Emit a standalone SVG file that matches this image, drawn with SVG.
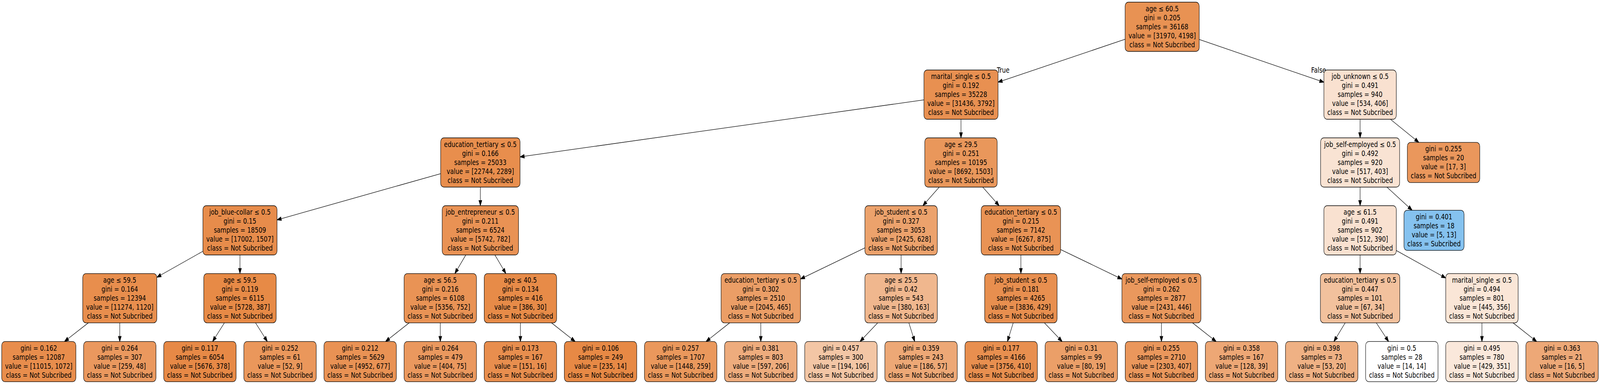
<svg xmlns="http://www.w3.org/2000/svg" width="5032" height="982" viewBox="0 0 5032 982" preserveAspectRatio="none">
<style>
svg{width:100vw;height:100vh;display:block}
.nd rect{stroke:#000;stroke-width:1.3}
text{font-family:"DejaVu Sans","Liberation Sans",sans-serif;font-size:18.67px;text-anchor:middle;fill:#000}
.edge{stroke:#000;stroke-width:1.3;fill:none;marker-end:url(#ah)}
</style>
<defs>
<marker id="ah" markerUnits="userSpaceOnUse" markerWidth="16" markerHeight="12" refX="0" refY="4.67" orient="auto" overflow="visible">
<path d="M0,0 L13.3,4.67 L0,9.33 z" fill="#000" stroke="#000" stroke-width="1.3"/>
</marker>
</defs>
<rect x="0" y="0" width="5032" height="982" fill="#fff"/>
<g id="connectors">
<line class="edge" x1="3538.45" y1="100.46" x2="3151.68" y2="206.52"/>
<line class="edge" x1="3771.55" y1="100.98" x2="4150.84" y2="206.7"/>
<line class="edge" x1="2905.75" y1="255.38" x2="1648.76" y2="399.65"/>
<line class="edge" x1="3022.3" y1="305" x2="3022.3" y2="339.2"/>
<line class="edge" x1="4277.5" y1="305" x2="4277.5" y2="339.2"/>
<line class="edge" x1="4372.82" y1="305" x2="4451.21" y2="356.82"/>
<line class="edge" x1="1385.85" y1="444.15" x2="884.21" y2="559.28"/>
<line class="edge" x1="1510.7" y1="478.5" x2="1510.7" y2="512.7"/>
<line class="edge" x1="2953.93" y1="478.5" x2="2912.15" y2="516.99"/>
<line class="edge" x1="3090.71" y1="478.5" x2="3132.51" y2="516.99"/>
<line class="edge" x1="4277.5" y1="478.5" x2="4277.5" y2="512.7"/>
<line class="edge" x1="4361.92" y1="478.5" x2="4430.52" y2="529.7"/>
<line class="edge" x1="638.15" y1="642.52" x2="505.34" y2="703.53"/>
<line class="edge" x1="754.7" y1="652" x2="754.7" y2="686.3"/>
<line class="edge" x1="1464.97" y1="652" x2="1438.24" y2="688.84"/>
<line class="edge" x1="1556.43" y1="652" x2="1583.16" y2="688.84"/>
<line class="edge" x1="2720.15" y1="633.79" x2="2529.93" y2="708.62"/>
<line class="edge" x1="2834" y1="652" x2="2834" y2="686.3"/>
<line class="edge" x1="3210.7" y1="652" x2="3210.7" y2="686.3"/>
<line class="edge" x1="3335.55" y1="638.04" x2="3516.07" y2="708.94"/>
<line class="edge" x1="4277.5" y1="652" x2="4277.5" y2="686.3"/>
<line class="edge" x1="4391.35" y1="640.58" x2="4534.74" y2="705.53"/>
<line class="edge" x1="277.77" y1="825.6" x2="213.86" y2="866.31"/>
<line class="edge" x1="376.7" y1="825.6" x2="376.7" y2="860.15"/>
<line class="edge" x1="705.76" y1="825.6" x2="676.75" y2="862.95"/>
<line class="edge" x1="803.64" y1="825.6" x2="832.65" y2="862.95"/>
<line class="edge" x1="1286.82" y1="825.6" x2="1223.66" y2="866.25"/>
<line class="edge" x1="1384.7" y1="825.6" x2="1384.7" y2="860.15"/>
<line class="edge" x1="1636.7" y1="825.6" x2="1636.7" y2="860.15"/>
<line class="edge" x1="1734.58" y1="825.6" x2="1797.74" y2="866.25"/>
<line class="edge" x1="2294.82" y1="825.6" x2="2231.66" y2="866.25"/>
<line class="edge" x1="2392.7" y1="825.6" x2="2392.7" y2="860.15"/>
<line class="edge" x1="2760.48" y1="825.6" x2="2714.73" y2="864.8"/>
<line class="edge" x1="2858.35" y1="825.6" x2="2872.05" y2="861.05"/>
<line class="edge" x1="3186.62" y1="825.6" x2="3173.08" y2="861.02"/>
<line class="edge" x1="3284.5" y1="825.6" x2="3330.43" y2="864.81"/>
<line class="edge" x1="3652.7" y1="825.6" x2="3652.7" y2="860.15"/>
<line class="edge" x1="3750.58" y1="825.6" x2="3813.74" y2="866.25"/>
<line class="edge" x1="4230.58" y1="825.6" x2="4202.9" y2="862.78"/>
<line class="edge" x1="4328.46" y1="825.6" x2="4358.8" y2="863.11"/>
<line class="edge" x1="4660.7" y1="825.6" x2="4660.7" y2="860.15"/>
<line class="edge" x1="4758.58" y1="825.6" x2="4821.74" y2="866.25"/>
<text x="3155" y="186.5">True</text>
<text x="4147" y="186.5">False</text>
</g>
<g id="n0" class="nd"><rect x="3538.45" y="5.5" width="233.1" height="126" rx="10" fill="#e89253"/><text x="3655" y="29"><tspan x="3655">age ≤ 60.5</tspan><tspan x="3655" dy="23">gini = 0.205</tspan><tspan x="3655" dy="23">samples = 36168</tspan><tspan x="3655" dy="23">value = [31970, 4198]</tspan><tspan x="3655" dy="23">class = Not Subcribed</tspan></text></g>
<g id="n1" class="nd"><rect x="2905.75" y="179" width="233.1" height="126" rx="10" fill="#e89051"/><text x="3022.3" y="202.5"><tspan x="3022.3">marital_single ≤ 0.5</tspan><tspan x="3022.3" dy="23">gini = 0.192</tspan><tspan x="3022.3" dy="23">samples = 35228</tspan><tspan x="3022.3" dy="23">value = [31436, 3792]</tspan><tspan x="3022.3" dy="23">class = Not Subcribed</tspan></text></g>
<g id="n2" class="nd"><rect x="4163.65" y="179" width="227.7" height="126" rx="10" fill="#f9e1d0"/><text x="4277.5" y="202.5"><tspan x="4277.5">job_unknown ≤ 0.5</tspan><tspan x="4277.5" dy="23">gini = 0.491</tspan><tspan x="4277.5" dy="23">samples = 940</tspan><tspan x="4277.5" dy="23">value = [534, 406]</tspan><tspan x="4277.5" dy="23">class = Not Subcribed</tspan></text></g>
<g id="n3" class="nd"><rect x="1385.85" y="352.5" width="249.7" height="126" rx="10" fill="#e88e4d"/><text x="1510.7" y="376"><tspan x="1510.7">education_tertiary ≤ 0.5</tspan><tspan x="1510.7" dy="23">gini = 0.166</tspan><tspan x="1510.7" dy="23">samples = 25033</tspan><tspan x="1510.7" dy="23">value = [22744, 2289]</tspan><tspan x="1510.7" dy="23">class = Not Subcribed</tspan></text></g>
<g id="n4" class="nd"><rect x="2908.45" y="352.5" width="227.7" height="126" rx="10" fill="#e9975b"/><text x="3022.3" y="376"><tspan x="3022.3">age ≤ 29.5</tspan><tspan x="3022.3" dy="23">gini = 0.251</tspan><tspan x="3022.3" dy="23">samples = 10195</tspan><tspan x="3022.3" dy="23">value = [8692, 1503]</tspan><tspan x="3022.3" dy="23">class = Not Subcribed</tspan></text></g>
<g id="n5" class="nd"><rect x="4153.25" y="352.5" width="248.5" height="126" rx="10" fill="#f9e3d3"/><text x="4277.5" y="376"><tspan x="4277.5">job_self-employed ≤ 0.5</tspan><tspan x="4277.5" dy="23">gini = 0.492</tspan><tspan x="4277.5" dy="23">samples = 920</tspan><tspan x="4277.5" dy="23">value = [517, 403]</tspan><tspan x="4277.5" dy="23">class = Not Subcribed</tspan></text></g>
<g id="n6" class="nd"><rect x="4426.15" y="364.15" width="227.7" height="102.7" rx="10" fill="#ea975c"/><text x="4540" y="387.5"><tspan x="4540">gini = 0.255</tspan><tspan x="4540" dy="23">samples = 20</tspan><tspan x="4540" dy="23">value = [17, 3]</tspan><tspan x="4540" dy="23">class = Not Subcribed</tspan></text></g>
<g id="n7" class="nd"><rect x="638.15" y="526" width="233.1" height="126" rx="10" fill="#e78c4b"/><text x="754.7" y="549.5"><tspan x="754.7">job_blue-collar ≤ 0.5</tspan><tspan x="754.7" dy="23">gini = 0.15</tspan><tspan x="754.7" dy="23">samples = 18509</tspan><tspan x="754.7" dy="23">value = [17002, 1507]</tspan><tspan x="754.7" dy="23">class = Not Subcribed</tspan></text></g>
<g id="n8" class="nd"><rect x="1390.7" y="526" width="240" height="126" rx="10" fill="#e99254"/><text x="1510.7" y="549.5"><tspan x="1510.7">job_entrepreneur ≤ 0.5</tspan><tspan x="1510.7" dy="23">gini = 0.211</tspan><tspan x="1510.7" dy="23">samples = 6524</tspan><tspan x="1510.7" dy="23">value = [5742, 782]</tspan><tspan x="1510.7" dy="23">class = Not Subcribed</tspan></text></g>
<g id="n9" class="nd"><rect x="2720.15" y="526" width="227.7" height="126" rx="10" fill="#eca26c"/><text x="2834" y="549.5"><tspan x="2834">job_student ≤ 0.5</tspan><tspan x="2834" dy="23">gini = 0.327</tspan><tspan x="2834" dy="23">samples = 3053</tspan><tspan x="2834" dy="23">value = [2425, 628]</tspan><tspan x="2834" dy="23">class = Not Subcribed</tspan></text></g>
<g id="n10" class="nd"><rect x="3085.85" y="526" width="249.7" height="126" rx="10" fill="#e99355"/><text x="3210.7" y="549.5"><tspan x="3210.7">education_tertiary ≤ 0.5</tspan><tspan x="3210.7" dy="23">gini = 0.215</tspan><tspan x="3210.7" dy="23">samples = 7142</tspan><tspan x="3210.7" dy="23">value = [6267, 875]</tspan><tspan x="3210.7" dy="23">class = Not Subcribed</tspan></text></g>
<g id="n11" class="nd"><rect x="4163.65" y="526" width="227.7" height="126" rx="10" fill="#f9e1d0"/><text x="4277.5" y="549.5"><tspan x="4277.5">age ≤ 61.5</tspan><tspan x="4277.5" dy="23">gini = 0.491</tspan><tspan x="4277.5" dy="23">samples = 902</tspan><tspan x="4277.5" dy="23">value = [512, 390]</tspan><tspan x="4277.5" dy="23">class = Not Subcribed</tspan></text></g>
<g id="n12" class="nd"><rect x="4415.5" y="537.65" width="189" height="102.7" rx="10" fill="#85c2ef"/><text x="4510" y="561"><tspan x="4510">gini = 0.401</tspan><tspan x="4510" dy="23">samples = 18</tspan><tspan x="4510" dy="23">value = [5, 13]</tspan><tspan x="4510" dy="23">class = Subcribed</tspan></text></g>
<g id="n13" class="nd"><rect x="260.15" y="699.6" width="233.1" height="126" rx="10" fill="#e88e4d"/><text x="376.7" y="723.1"><tspan x="376.7">age ≤ 59.5</tspan><tspan x="376.7" dy="23">gini = 0.164</tspan><tspan x="376.7" dy="23">samples = 12394</tspan><tspan x="376.7" dy="23">value = [11274, 1120]</tspan><tspan x="376.7" dy="23">class = Not Subcribed</tspan></text></g>
<g id="n14" class="nd"><rect x="640.85" y="699.6" width="227.7" height="126" rx="10" fill="#e78a46"/><text x="754.7" y="723.1"><tspan x="754.7">age ≤ 59.5</tspan><tspan x="754.7" dy="23">gini = 0.119</tspan><tspan x="754.7" dy="23">samples = 6115</tspan><tspan x="754.7" dy="23">value = [5728, 387]</tspan><tspan x="754.7" dy="23">class = Not Subcribed</tspan></text></g>
<g id="n15" class="nd"><rect x="1270.85" y="699.6" width="227.7" height="126" rx="10" fill="#e99355"/><text x="1384.7" y="723.1"><tspan x="1384.7">age ≤ 56.5</tspan><tspan x="1384.7" dy="23">gini = 0.216</tspan><tspan x="1384.7" dy="23">samples = 6108</tspan><tspan x="1384.7" dy="23">value = [5356, 752]</tspan><tspan x="1384.7" dy="23">class = Not Subcribed</tspan></text></g>
<g id="n16" class="nd"><rect x="1522.85" y="699.6" width="227.7" height="126" rx="10" fill="#e78b48"/><text x="1636.7" y="723.1"><tspan x="1636.7">age ≤ 40.5</tspan><tspan x="1636.7" dy="23">gini = 0.134</tspan><tspan x="1636.7" dy="23">samples = 416</tspan><tspan x="1636.7" dy="23">value = [386, 30]</tspan><tspan x="1636.7" dy="23">class = Not Subcribed</tspan></text></g>
<g id="n17" class="nd"><rect x="2267.85" y="699.6" width="249.7" height="126" rx="10" fill="#eb9e66"/><text x="2392.7" y="723.1"><tspan x="2392.7">education_tertiary ≤ 0.5</tspan><tspan x="2392.7" dy="23">gini = 0.302</tspan><tspan x="2392.7" dy="23">samples = 2510</tspan><tspan x="2392.7" dy="23">value = [2045, 465]</tspan><tspan x="2392.7" dy="23">class = Not Subcribed</tspan></text></g>
<g id="n18" class="nd"><rect x="2720.15" y="699.6" width="227.7" height="126" rx="10" fill="#f0b78e"/><text x="2834" y="723.1"><tspan x="2834">age ≤ 25.5</tspan><tspan x="2834" dy="23">gini = 0.42</tspan><tspan x="2834" dy="23">samples = 543</tspan><tspan x="2834" dy="23">value = [380, 163]</tspan><tspan x="2834" dy="23">class = Not Subcribed</tspan></text></g>
<g id="n19" class="nd"><rect x="3096.85" y="699.6" width="227.7" height="126" rx="10" fill="#e88f4f"/><text x="3210.7" y="723.1"><tspan x="3210.7">job_student ≤ 0.5</tspan><tspan x="3210.7" dy="23">gini = 0.181</tspan><tspan x="3210.7" dy="23">samples = 4265</tspan><tspan x="3210.7" dy="23">value = [3836, 429]</tspan><tspan x="3210.7" dy="23">class = Not Subcribed</tspan></text></g>
<g id="n20" class="nd"><rect x="3528.45" y="699.6" width="248.5" height="126" rx="10" fill="#ea985d"/><text x="3652.7" y="723.1"><tspan x="3652.7">job_self-employed ≤ 0.5</tspan><tspan x="3652.7" dy="23">gini = 0.262</tspan><tspan x="3652.7" dy="23">samples = 2877</tspan><tspan x="3652.7" dy="23">value = [2431, 446]</tspan><tspan x="3652.7" dy="23">class = Not Subcribed</tspan></text></g>
<g id="n21" class="nd"><rect x="4152.65" y="699.6" width="249.7" height="126" rx="10" fill="#f2c19d"/><text x="4277.5" y="723.1"><tspan x="4277.5">education_tertiary ≤ 0.5</tspan><tspan x="4277.5" dy="23">gini = 0.447</tspan><tspan x="4277.5" dy="23">samples = 101</tspan><tspan x="4277.5" dy="23">value = [67, 34]</tspan><tspan x="4277.5" dy="23">class = Not Subcribed</tspan></text></g>
<g id="n22" class="nd"><rect x="4546.85" y="699.6" width="227.7" height="126" rx="10" fill="#fae6d7"/><text x="4660.7" y="723.1"><tspan x="4660.7">marital_single ≤ 0.5</tspan><tspan x="4660.7" dy="23">gini = 0.494</tspan><tspan x="4660.7" dy="23">samples = 801</tspan><tspan x="4660.7" dy="23">value = [445, 356]</tspan><tspan x="4660.7" dy="23">class = Not Subcribed</tspan></text></g>
<g id="L0" class="nd"><rect x="5.33" y="873.45" width="233.3" height="102.7" rx="10" fill="#e88d4c"/><text x="122" y="896.8"><tspan x="122">gini = 0.162</tspan><tspan x="122" dy="23">samples = 12087</tspan><tspan x="122" dy="23">value = [11015, 1072]</tspan><tspan x="122" dy="23">class = Not Subcribed</tspan></text></g>
<g id="L1" class="nd"><rect x="262.85" y="873.45" width="227.7" height="102.7" rx="10" fill="#ea985e"/><text x="376.7" y="896.8"><tspan x="376.7">gini = 0.264</tspan><tspan x="376.7" dy="23">samples = 307</tspan><tspan x="376.7" dy="23">value = [259, 48]</tspan><tspan x="376.7" dy="23">class = Not Subcribed</tspan></text></g>
<g id="L2" class="nd"><rect x="514.85" y="873.45" width="227.7" height="102.7" rx="10" fill="#e78946"/><text x="628.7" y="896.8"><tspan x="628.7">gini = 0.117</tspan><tspan x="628.7" dy="23">samples = 6054</tspan><tspan x="628.7" dy="23">value = [5676, 378]</tspan><tspan x="628.7" dy="23">class = Not Subcribed</tspan></text></g>
<g id="L3" class="nd"><rect x="766.85" y="873.45" width="227.7" height="102.7" rx="10" fill="#ea975b"/><text x="880.7" y="896.8"><tspan x="880.7">gini = 0.252</tspan><tspan x="880.7" dy="23">samples = 61</tspan><tspan x="880.7" dy="23">value = [52, 9]</tspan><tspan x="880.7" dy="23">class = Not Subcribed</tspan></text></g>
<g id="L4" class="nd"><rect x="1018.85" y="873.45" width="227.7" height="102.7" rx="10" fill="#e99254"/><text x="1132.7" y="896.8"><tspan x="1132.7">gini = 0.212</tspan><tspan x="1132.7" dy="23">samples = 5629</tspan><tspan x="1132.7" dy="23">value = [4952, 677]</tspan><tspan x="1132.7" dy="23">class = Not Subcribed</tspan></text></g>
<g id="L5" class="nd"><rect x="1270.85" y="873.45" width="227.7" height="102.7" rx="10" fill="#ea985e"/><text x="1384.7" y="896.8"><tspan x="1384.7">gini = 0.264</tspan><tspan x="1384.7" dy="23">samples = 479</tspan><tspan x="1384.7" dy="23">value = [404, 75]</tspan><tspan x="1384.7" dy="23">class = Not Subcribed</tspan></text></g>
<g id="L6" class="nd"><rect x="1522.85" y="873.45" width="227.7" height="102.7" rx="10" fill="#e88e4e"/><text x="1636.7" y="896.8"><tspan x="1636.7">gini = 0.173</tspan><tspan x="1636.7" dy="23">samples = 167</tspan><tspan x="1636.7" dy="23">value = [151, 16]</tspan><tspan x="1636.7" dy="23">class = Not Subcribed</tspan></text></g>
<g id="L7" class="nd"><rect x="1774.85" y="873.45" width="227.7" height="102.7" rx="10" fill="#e78945"/><text x="1888.7" y="896.8"><tspan x="1888.7">gini = 0.106</tspan><tspan x="1888.7" dy="23">samples = 249</tspan><tspan x="1888.7" dy="23">value = [235, 14]</tspan><tspan x="1888.7" dy="23">class = Not Subcribed</tspan></text></g>
<g id="L8" class="nd"><rect x="2026.85" y="873.45" width="227.7" height="102.7" rx="10" fill="#ea985c"/><text x="2140.7" y="896.8"><tspan x="2140.7">gini = 0.257</tspan><tspan x="2140.7" dy="23">samples = 1707</tspan><tspan x="2140.7" dy="23">value = [1448, 259]</tspan><tspan x="2140.7" dy="23">class = Not Subcribed</tspan></text></g>
<g id="L9" class="nd"><rect x="2278.85" y="873.45" width="227.7" height="102.7" rx="10" fill="#eeac7d"/><text x="2392.7" y="896.8"><tspan x="2392.7">gini = 0.381</tspan><tspan x="2392.7" dy="23">samples = 803</tspan><tspan x="2392.7" dy="23">value = [597, 206]</tspan><tspan x="2392.7" dy="23">class = Not Subcribed</tspan></text></g>
<g id="L10" class="nd"><rect x="2530.85" y="873.45" width="227.7" height="102.7" rx="10" fill="#f3c6a5"/><text x="2644.7" y="896.8"><tspan x="2644.7">gini = 0.457</tspan><tspan x="2644.7" dy="23">samples = 300</tspan><tspan x="2644.7" dy="23">value = [194, 106]</tspan><tspan x="2644.7" dy="23">class = Not Subcribed</tspan></text></g>
<g id="L11" class="nd"><rect x="2782.85" y="873.45" width="227.7" height="102.7" rx="10" fill="#eda876"/><text x="2896.7" y="896.8"><tspan x="2896.7">gini = 0.359</tspan><tspan x="2896.7" dy="23">samples = 243</tspan><tspan x="2896.7" dy="23">value = [186, 57]</tspan><tspan x="2896.7" dy="23">class = Not Subcribed</tspan></text></g>
<g id="L12" class="nd"><rect x="3034.85" y="873.45" width="227.7" height="102.7" rx="10" fill="#e88f4f"/><text x="3148.7" y="896.8"><tspan x="3148.7">gini = 0.177</tspan><tspan x="3148.7" dy="23">samples = 4166</tspan><tspan x="3148.7" dy="23">value = [3756, 410]</tspan><tspan x="3148.7" dy="23">class = Not Subcribed</tspan></text></g>
<g id="L13" class="nd"><rect x="3286.85" y="873.45" width="227.7" height="102.7" rx="10" fill="#eb9f68"/><text x="3400.7" y="896.8"><tspan x="3400.7">gini = 0.31</tspan><tspan x="3400.7" dy="23">samples = 99</tspan><tspan x="3400.7" dy="23">value = [80, 19]</tspan><tspan x="3400.7" dy="23">class = Not Subcribed</tspan></text></g>
<g id="L14" class="nd"><rect x="3538.85" y="873.45" width="227.7" height="102.7" rx="10" fill="#ea975c"/><text x="3652.7" y="896.8"><tspan x="3652.7">gini = 0.255</tspan><tspan x="3652.7" dy="23">samples = 2710</tspan><tspan x="3652.7" dy="23">value = [2303, 407]</tspan><tspan x="3652.7" dy="23">class = Not Subcribed</tspan></text></g>
<g id="L15" class="nd"><rect x="3790.85" y="873.45" width="227.7" height="102.7" rx="10" fill="#eda775"/><text x="3904.7" y="896.8"><tspan x="3904.7">gini = 0.358</tspan><tspan x="3904.7" dy="23">samples = 167</tspan><tspan x="3904.7" dy="23">value = [128, 39]</tspan><tspan x="3904.7" dy="23">class = Not Subcribed</tspan></text></g>
<g id="L16" class="nd"><rect x="4042.85" y="873.45" width="227.7" height="102.7" rx="10" fill="#efb184"/><text x="4156.7" y="896.8"><tspan x="4156.7">gini = 0.398</tspan><tspan x="4156.7" dy="23">samples = 73</tspan><tspan x="4156.7" dy="23">value = [53, 20]</tspan><tspan x="4156.7" dy="23">class = Not Subcribed</tspan></text></g>
<g id="L17" class="nd"><rect x="4294.85" y="873.45" width="227.7" height="102.7" rx="10" fill="#ffffff"/><text x="4408.7" y="896.8"><tspan x="4408.7">gini = 0.5</tspan><tspan x="4408.7" dy="23">samples = 28</tspan><tspan x="4408.7" dy="23">value = [14, 14]</tspan><tspan x="4408.7" dy="23">class = Not Subcribed</tspan></text></g>
<g id="L18" class="nd"><rect x="4546.85" y="873.45" width="227.7" height="102.7" rx="10" fill="#fae8db"/><text x="4660.7" y="896.8"><tspan x="4660.7">gini = 0.495</tspan><tspan x="4660.7" dy="23">samples = 780</tspan><tspan x="4660.7" dy="23">value = [429, 351]</tspan><tspan x="4660.7" dy="23">class = Not Subcribed</tspan></text></g>
<g id="L19" class="nd"><rect x="4798.85" y="873.45" width="227.7" height="102.7" rx="10" fill="#eda877"/><text x="4912.7" y="896.8"><tspan x="4912.7">gini = 0.363</tspan><tspan x="4912.7" dy="23">samples = 21</tspan><tspan x="4912.7" dy="23">value = [16, 5]</tspan><tspan x="4912.7" dy="23">class = Not Subcribed</tspan></text></g>
</svg>
